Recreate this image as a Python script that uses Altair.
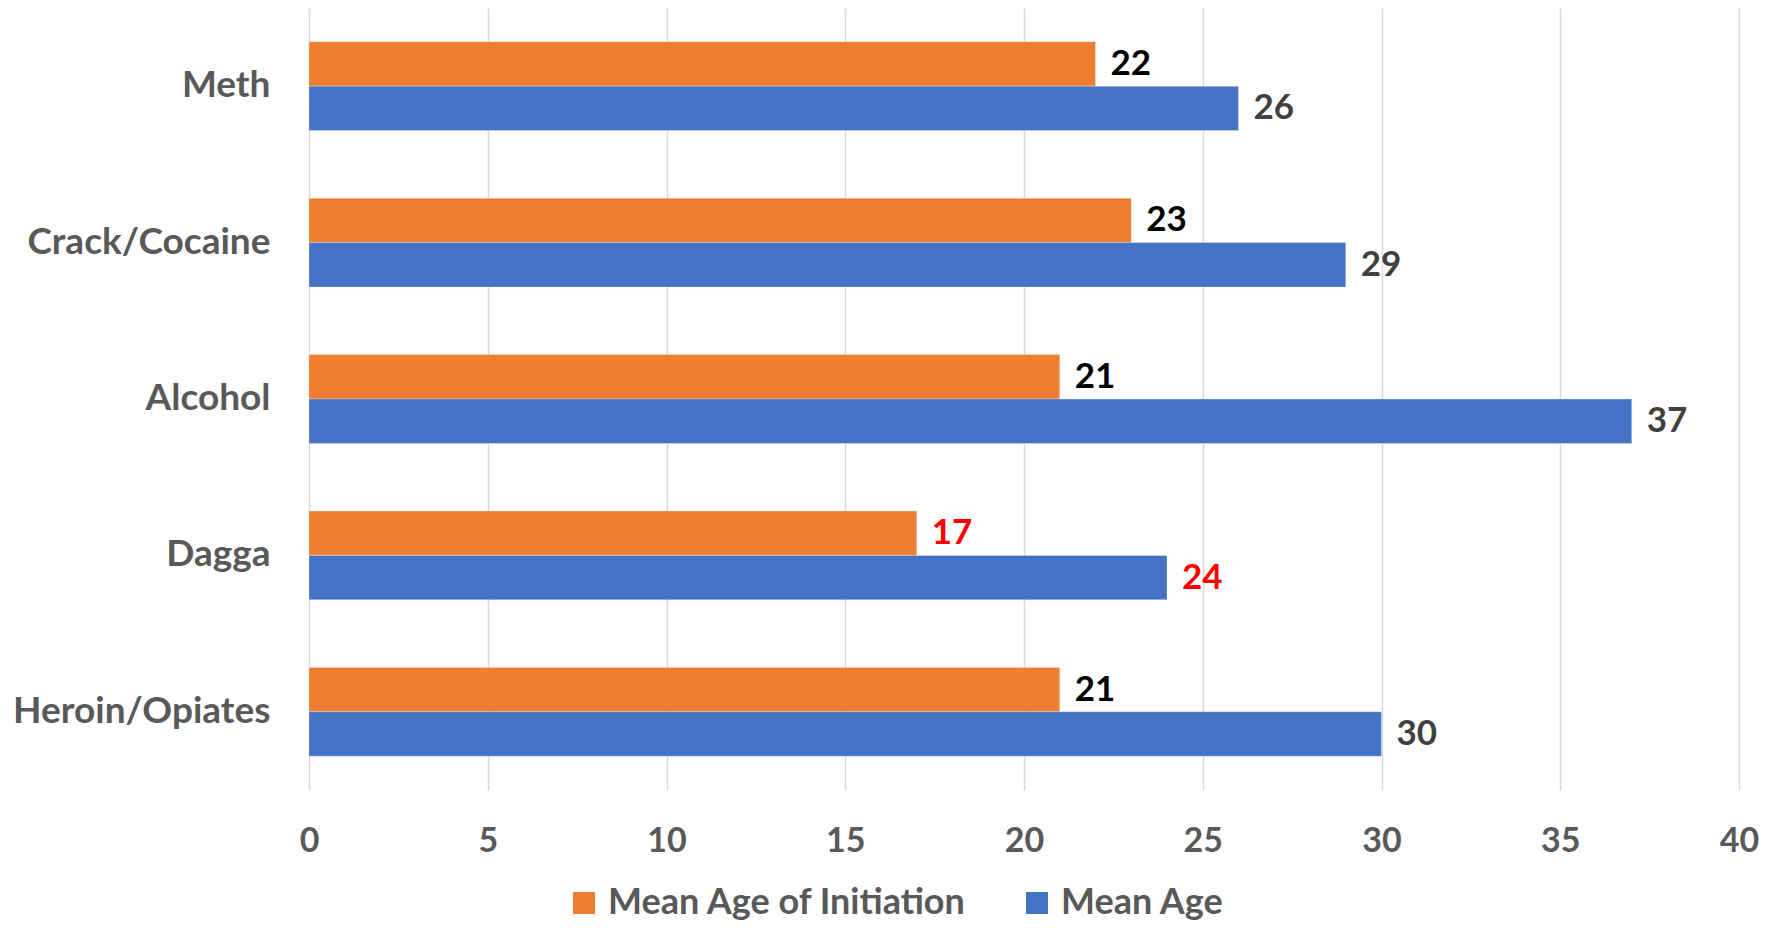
import altair as alt
import pandas as pd

categories = ["Meth", "Crack/Cocaine", "Alcohol", "Dagga", "Heroin/Opiates"]
series_names = ["Mean Age of Initiation", "Mean Age"]
initiation = [22, 23, 21, 17, 21]
mean_age = [26, 29, 37, 24, 30]
x_ticks = [0, 5, 10, 15, 20, 25, 30, 35, 40]
colors = ["#ED7D31", "#4472C4"]

rows = []
for c, a, b in zip(categories, initiation, mean_age):
    rows.append({"drug": c, "series": series_names[0], "value": a})
    rows.append({"drug": c, "series": series_names[1], "value": b})
df = pd.DataFrame(rows)

FONT = "Lato"

y_enc = alt.Y(
    "drug:N",
    sort=categories,
    scale=alt.Scale(paddingInner=0.432, paddingOuter=0.216),
    axis=alt.Axis(
        title=None, ticks=False, domain=False, labelPadding=39,
        labelFont=FONT, labelFontSize=37, labelFontWeight="bold",
        labelColor="#595959", labelLimit=400,
    ),
)
x_enc = alt.X(
    "value:Q",
    scale=alt.Scale(domain=[0, 40], nice=False),
    axis=alt.Axis(
        title=None, values=x_ticks, ticks=False, domain=False, grid=True,
        gridColor="#D9D9D9", gridWidth=1.5, labelPadding=34,
        labelFont=FONT, labelFontSize=34, labelFontWeight="bold",
        labelColor="#595959", labelFlush=False,
    ),
)
yoff = alt.YOffset("series:N", sort=series_names,
                   scale=alt.Scale(paddingInner=0, paddingOuter=0))

base = alt.Chart(df)

bars = base.mark_bar(stroke="#FFFFFF", strokeWidth=0.6, strokeOpacity=0.5).encode(
    y=y_enc,
    x=x_enc,
    yOffset=yoff,
    color=alt.Color(
        "series:N",
        scale=alt.Scale(domain=series_names, range=colors),
        legend=alt.Legend(
            title=None, orient="none", direction="horizontal",
            legendX=257, legendY=877, symbolType="square", symbolSize=484,
            symbolStrokeWidth=0, labelFont=FONT, labelFontSize=36,
            labelFontWeight="bold", labelColor="#595959", labelOffset=6,
            columnPadding=52, padding=0, labelLimit=600,
        ),
    ),
)

labels = base.transform_calculate(
    lc="datum.drug == 'Dagga' ? '#FF0000' : (datum.series == 'Mean Age' ? '#404040' : '#000000')"
).mark_text(
    align="left", baseline="middle", dx=15, font=FONT, fontSize=35, fontWeight="bold"
).encode(
    y=alt.Y("drug:N", sort=categories),
    x=alt.X("value:Q"),
    yOffset=alt.YOffset("series:N", sort=series_names),
    text=alt.Text("value:Q"),
    color=alt.Color("lc:N", scale=None),
)

chart = alt.layer(bars, labels).properties(
    width=1430,
    height=782,
    background="#FFFFFF",
    autosize=alt.AutoSizeParams(type="none"),
    padding={"left": 301, "top": 0, "right": 20, "bottom": 135},
).configure_view(stroke=None)

chart.save("out.html", embed_options={"renderer": "svg", "actions": False})
